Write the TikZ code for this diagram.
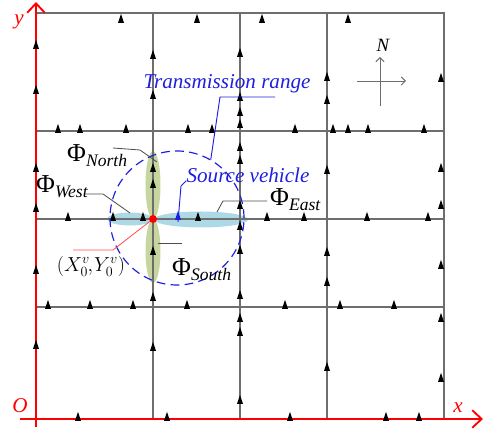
\documentclass[tikz,border=0pt]{standalone}
\usepackage{fontspec}
\setmainfont{Liberation Serif}
\usetikzlibrary{arrows.meta}
\definecolor{RoadGray}{HTML}{6E6E6E}
\definecolor{RangeBlue}{HTML}{1E1EE0}
\definecolor{LobeGreen}{HTML}{C6D69E}
\definecolor{LobeBlue}{HTML}{ADD9E6}
\definecolor{AxisRed}{HTML}{FF0000}
\definecolor{LeadRed}{HTML}{FF5050}
\newcommand{\dirlbl}[1]{{\fontsize{22}{22}\selectfont Φ}\raisebox{-3.5pt}{\fontsize{15}{15}\selectfont\itshape #1}}

\begin{document}
\begin{tikzpicture}[x=0.03cm,y=-0.03cm,
  road/.style={RoadGray,line width=1.1pt},
  axisline/.style={AxisRed,line width=1.6pt,-{Straight Barb[length=8pt,width=15pt]}},
  leader/.style={RoadGray!70!black,line width=0.7pt},
  car/.pic={\fill (-3,4) -- (3,4) -- (0,-5) -- cycle;},
  lbl/.style={font=\fontsize{18}{18}\selectfont\itshape,inner sep=0pt},
  phi/.style={inner sep=0pt,anchor=base west}]
\useasboundingbox (0,0) rectangle (490,432);

% lobes of the four directions
\fill[LobeGreen] (153,185) ellipse [x radius=7.5,y radius=34];
\fill[LobeGreen] (153,251) ellipse [x radius=7.5,y radius=32];
\fill[LobeBlue] (130,219) ellipse [x radius=23,y radius=6.5];
\fill[LobeBlue] (201,219.5) ellipse [x radius=47,y radius=8];

% roads
\draw[road] (36,13) -- (444,13) -- (444,419);
\foreach \y in {131,219,307} \draw[road] (36,\y) -- (444,\y);
\foreach \x in {153,240,327} \draw[road] (\x,13) -- (\x,419);

% axes
\coordinate (ybot) at (36,427);
\coordinate (ytop) at (36,2);
\coordinate (xleft) at (20,419);
\coordinate (xright) at (483,419);
\draw[axisline] (ybot) -- (ytop);
\draw[axisline] (xleft) -- (xright);
\node[lbl,AxisRed] (ylab) at (19,22) {y};
\node[lbl,AxisRed] (olab) at (20,406) {O};
\node[lbl,AxisRed] (xlab) at (458,408) {x};

% vehicles
\foreach \y in {45,90,168,208,270,345} \pic at (36,\y) {car};
\foreach \y in {55,95,168,184,251,297,347} \pic at (153,\y) {car};
\foreach \y in {53,97,112,124,147,160,205,226,250,295,318,332,400} \pic at (240,\y) {car};
\foreach \y in {77,100,170,252,282,367} \pic at (327,\y) {car};
\foreach \y in {78,168,205,265,318,378} \pic at (441,\y) {car};
\foreach \x in {121,197,262,348} \pic at (\x,19) {car};
\foreach \x in {58,80,126,188,212,295,333,348,368,424} \pic at (\x,129) {car};
\foreach \x in {68,113,143,198,267,304,367,428} \pic at (\x,217) {car};
\foreach \x in {48,90,133,187,285,340,394} \pic at (\x,305) {car};
\foreach \x in {78,167,290,386,419} \pic at (\x,417) {car};
\coordinate (srccar) at (178,216);
\pic[RangeBlue] at (srccar) {car};

% transmission range
\node[circle,draw=RangeBlue,dash pattern=on 7.5pt off 4.5pt,line width=1pt,
  minimum size=4.02cm,inner sep=0pt] (cover) at (177,218) {};
\node[fill=red,circle,inner sep=0pt,minimum size=0.24cm] (origin) at (153,219) {};

\node[lbl,RangeBlue] (range) at (227,84) {Transmission range};
\coordinate (rangeend) at (275,97);
\coordinate (rangebend) at (220,97);
\draw[RangeBlue,line width=0.8pt] (rangeend) -- (rangebend) -- (cover.60);

\node[lbl,RangeBlue] (src) at (248,175) {Source vehicle};
\coordinate (srcbend) at (181,186);
\draw[RangeBlue,line width=0.8pt] (src.south west) ++(0,-2) -- (srcbend) -- ([yshift=-5]srccar);

% direction labels
\node[phi] (north) at (67,162) {\dirlbl{North}};
\coordinate (northbend) at (140,150);
\draw[leader] (113,148) -- (northbend) -- (157,162);

\node[phi] (west) at (36,193) {\dirlbl{West}};
\coordinate (westbend) at (103,194);
\draw[leader] (85,194) -- (westbend) -- (130,213);

\node[phi] (east) at (270,206) {\dirlbl{East}};
\coordinate (eastbend) at (223,201);
\draw[leader] (267,201) -- (eastbend) -- (217,212);

\node[phi] (south) at (172,276) {\dirlbl{South}};
\coordinate (southend) at (158,243);
\draw[leader] (southend) -- (182,243);

\node[font=\fontsize{18}{18}\selectfont,inner sep=0pt] (pos) at (91,266) {$(X_0^v\mkern-2mu,\mkern-2mu Y_0^v)$};
\coordinate (posbend) at (113,250);
\draw[LeadRed,line width=0.7pt] (origin) -- (posbend) -- (73,250);

% compass
\coordinate (cs) at (380,106);
\coordinate (cn) at (380,57);
\coordinate (cw) at (357,81);
\coordinate (ce) at (406,81);
\draw[RoadGray,line width=0.8pt,-{Straight Barb[length=3.5pt,width=7pt]}] (cs) -- (cn);
\draw[RoadGray,line width=0.8pt,-{Straight Barb[length=3.5pt,width=7pt]}] (cw) -- (ce);
\node[font=\fontsize{16}{16}\selectfont\itshape,inner sep=0pt] (nlab) at (383,45) {N};
\end{tikzpicture}
\end{document}
